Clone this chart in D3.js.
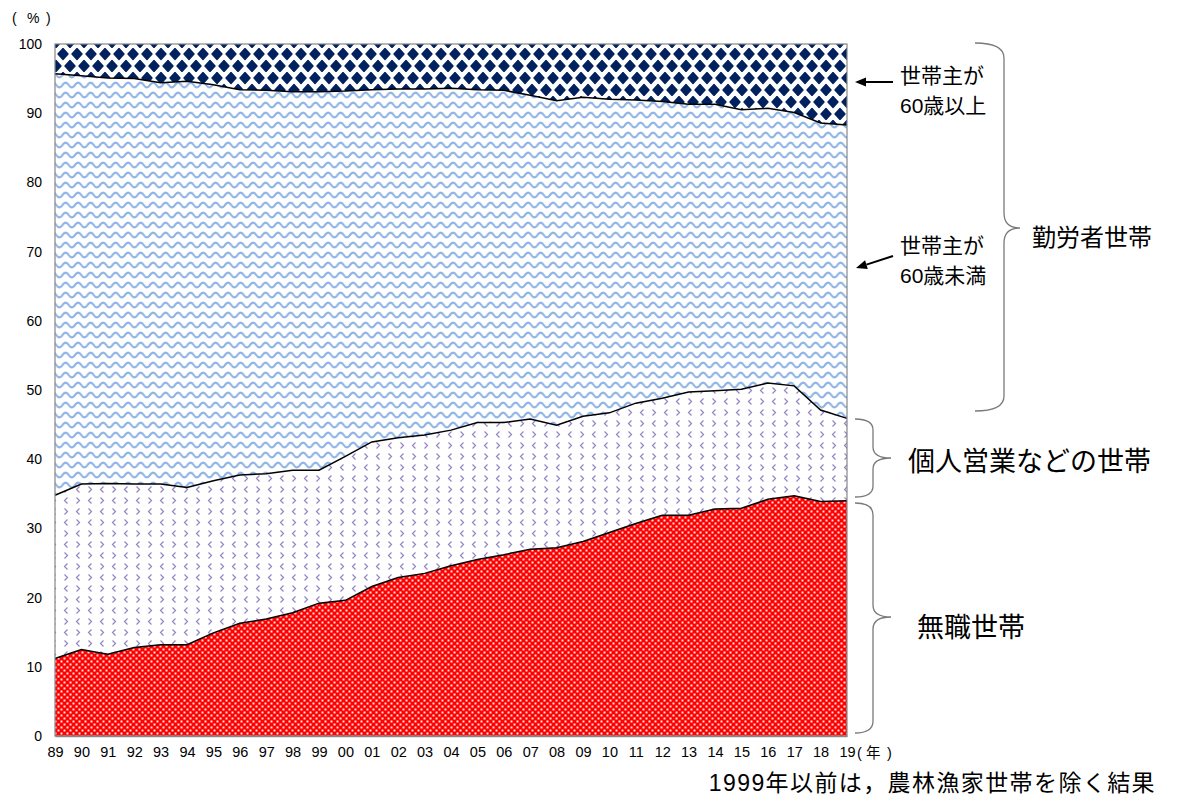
<!DOCTYPE html>
<html><head><meta charset="utf-8">
<script src="https://cdn.jsdelivr.net/npm/d3@7"></script>
<style>
body{margin:0;background:#fff;}
svg{display:block;}
.jp{font-family:"Liberation Sans","Noto Sans CJK JP",sans-serif;}
</style></head>
<body>
<svg id="c" width="1198" height="796"></svg>
<script>
const years = ['89','90','91','92','93','94','95','96','97','98','99','00','01','02','03','04','05','06','07','08','09','10','11','12','13','14','15','16','17','18','19'];
const nonWorking   = [11.2,12.5,11.8,12.8,13.2,13.2,14.9,16.3,16.9,17.8,19.2,19.6,21.6,22.9,23.5,24.6,25.5,26.2,27.0,27.2,28.1,29.4,30.7,31.9,31.9,32.8,32.9,34.2,34.7,33.9,34.0];
const selfEmployed = [23.6,23.9,24.7,23.6,23.2,22.7,22.0,21.4,21.0,20.6,19.2,20.8,20.9,20.2,20.0,19.6,19.8,19.1,18.8,17.7,18.1,17.3,17.4,16.9,17.8,17.1,17.2,16.8,15.9,13.2,11.9];
const workerUnder60= [60.9,59.0,58.6,58.6,58.0,58.7,57.2,55.7,55.4,54.7,54.7,52.8,50.9,50.4,50.0,49.4,48.1,48.0,46.8,46.9,46.1,45.3,43.8,42.9,41.6,41.4,40.4,39.7,39.5,41.5,42.4];
const worker60Over = [4.3,4.6,4.9,5.0,5.6,5.4,5.9,6.6,6.7,6.9,6.9,6.8,6.6,6.5,6.5,6.4,6.6,6.7,7.4,8.2,7.7,8.0,8.1,8.3,8.7,8.7,9.5,9.3,9.9,11.4,11.7];
const yTicks = [0,10,20,30,40,50,60,70,80,90,100];

const keys = ['nonWorking','selfEmployed','workerUnder60','worker60Over'];
const table = years.map((yr,i)=>({year:yr, nonWorking:nonWorking[i], selfEmployed:selfEmployed[i], workerUnder60:workerUnder60[i], worker60Over:worker60Over[i]}));

const svg = d3.select('#c');
const L=55, R=847, T=44, B=736;
const x = d3.scalePoint().domain(years).range([L,R]);
const y = d3.scaleLinear().domain([0,100]).range([B,T]);

const defs = svg.append('defs');
// red checker
const pr = defs.append('pattern').attr('id','pRed').attr('patternUnits','userSpaceOnUse').attr('width',6).attr('height',6);
pr.append('rect').attr('width',6).attr('height',6).attr('fill','#ff0000');
pr.append('rect').attr('x',0.5).attr('y',0.5).attr('width',2).attr('height',2).attr('fill','#fff').attr('opacity',0.9);
pr.append('rect').attr('x',3.5).attr('y',3.5).attr('width',2).attr('height',2).attr('fill','#fff').attr('opacity',0.9);
// purple chevrons
const pp = defs.append('pattern').attr('id','pPurple').attr('patternUnits','userSpaceOnUse').attr('width',24).attr('height',22);
pp.append('rect').attr('width',24).attr('height',22).attr('fill','#fff');
const chev = (cx,cy,dir)=>`M${cx+1.5*dir},${cy-3} L${cx-1.5*dir},${cy} L${cx+1.5*dir},${cy+3}`;
[[6,5.5,1],[18,5.5,-1],[6,16.5,-1],[18,16.5,1]].forEach(c=>{
  pp.append('path').attr('d',chev(c[0],c[1],c[2])).attr('fill','none').attr('stroke','#9584c4').attr('stroke-width',1.2);
});
// blue waves
const pb = defs.append('pattern').attr('id','pBlue').attr('patternUnits','userSpaceOnUse').attr('width',12.5).attr('height',10);
pb.append('rect').attr('width',12.5).attr('height',10).attr('fill','#fff');
pb.append('path').attr('d','M-6.25,5 Q-3.125,9.8 0,5 Q3.125,0.2 6.25,5 Q9.375,9.8 12.5,5 Q15.625,0.2 18.75,5')
  .attr('fill','none').attr('stroke','#8fb4e6').attr('stroke-width',2.2);
// navy diamonds
const pd = defs.append('pattern').attr('id','pNavy').attr('patternUnits','userSpaceOnUse').attr('width',14).attr('height',24);
pd.append('rect').attr('width',14).attr('height',24).attr('fill','#fff');
const dia = (cx,cy)=>`M${cx},${cy-5.4} L${cx+5.0},${cy} L${cx},${cy+5.4} L${cx-5.0},${cy} Z`;
[[7,6],[0,18],[14,18]].forEach(c=>pd.append('path').attr('d',dia(c[0],c[1])).attr('fill','#00215e')
  .attr('stroke','#00215e').attr('stroke-width',1.4).attr('stroke-linejoin','round'));

const fills = {nonWorking:'url(#pRed)', selfEmployed:'url(#pPurple)', workerUnder60:'url(#pBlue)', worker60Over:'url(#pNavy)'};

const stacked = d3.stack().keys(keys)(table);
const area = d3.area().x(d=>x(d.data.year)).y0(d=>y(d[0])).y1(d=>y(d[1]));
svg.append('g').selectAll('path').data(stacked).join('path')
  .attr('d',area).attr('fill',d=>fills[d.key]);

const line = d3.line().x(d=>x(d.data.year)).y(d=>y(d[1]));
svg.append('g').selectAll('path').data(stacked.slice(0,3)).join('path')
  .attr('d',line).attr('fill','none').attr('stroke','#000').attr('stroke-width',1.5);

svg.append('rect').attr('x',L).attr('y',T).attr('width',R-L).attr('height',B-T)
  .attr('fill','none').attr('stroke','#878787').attr('stroke-width',1.2);

const ya = svg.append('g').attr('transform',`translate(${L},0)`)
  .call(d3.axisLeft(y).tickValues(yTicks).tickSize(0).tickPadding(13));
ya.select('.domain').remove();
ya.selectAll('text').attr('font-size',14).attr('fill','#000').attr('font-family','"Liberation Sans",Arial,sans-serif');
const xa = svg.append('g').attr('transform',`translate(0,${B})`)
  .call(d3.axisBottom(x).tickSize(0).tickPadding(11));
xa.select('.domain').attr('stroke','#878787').attr('stroke-width',1.5);
xa.selectAll('text').attr('font-size',14.5).attr('fill','#000').attr('font-family','"Liberation Sans",Arial,sans-serif');

const txt = (s,xx,yy,size,anchor)=>svg.append('text').attr('class','jp').attr('x',xx).attr('y',yy)
  .attr('font-size',size).attr('text-anchor',anchor||'start').attr('dominant-baseline','central').attr('fill','#000').text(s);

txt('(',12,18,14); txt('%',27,18,14); txt(')',46,18,14);
txt('(',857,753,14.5); txt('年',866,753,14.5); txt(')',887,753,14.5);
txt('世帯主が',900,75,21); txt('60歳以上',900,105,21);
txt('世帯主が',900,245,21); txt('60歳未満',900,275,21);
txt('勤労者世帯',1032,237,24);
txt('個人営業などの世帯',908,462,27);
txt('無職世帯',917,628,27);
txt('1999年以前は，農林漁家世帯を除く結果',1156,783,23,'end').attr('letter-spacing',1.4);

const arrow=(x1,y1,x2,y2)=>{
  const a=Math.atan2(y2-y1,x2-x1), len=11, w=4.5;
  const bx=x2-len*Math.cos(a), by=y2-len*Math.sin(a);
  svg.append('line').attr('x1',x1).attr('y1',y1).attr('x2',bx).attr('y2',by).attr('stroke','#000').attr('stroke-width',2);
  svg.append('path').attr('d',`M${x2},${y2} L${bx+w*Math.sin(a)},${by-w*Math.cos(a)} L${bx-w*Math.sin(a)},${by+w*Math.cos(a)} Z`).attr('fill','#000');
};
arrow(893,82,855,82);
arrow(893,256,856,268);

const br = [
 'M975,43 Q1004,43 1004,58 L1004,213 Q1004,228 1020,228 Q1004,228 1004,243 L1004,396 Q1004,411 975,411',
 'M855,419 Q873,419 873,430 L873,447 Q873,458 891,458 Q873,458 873,469 L873,486 Q873,497 855,497',
 'M855,503 Q873,503 873,515 L873,605 Q873,617 891,617 Q873,617 873,629 L873,721 Q873,733 855,733'
];
svg.append('g').selectAll('path').data(br).join('path').attr('d',d=>d)
  .attr('fill','none').attr('stroke','#7a7a7a').attr('stroke-width',1.3);
</script>
</body></html>
